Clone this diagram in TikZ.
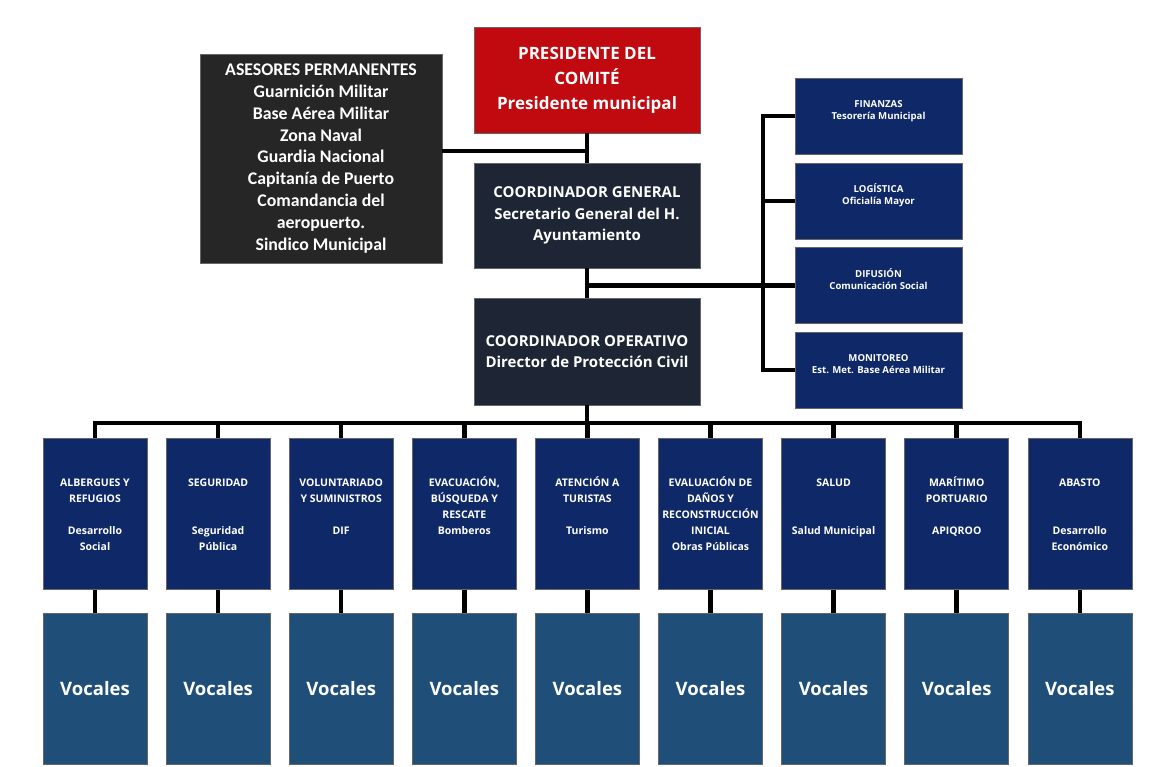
\documentclass[tikz,border=0pt]{standalone}
\usepackage{fontspec}
\setmainfont{Open Sans}
\newfontfamily\calib{Carlito}
\definecolor{navy}{RGB}{14,40,104}
\definecolor{vocal}{RGB}{31,78,121}
\definecolor{coord}{RGB}{30,38,53}
\definecolor{asesor}{RGB}{38,38,38}
\definecolor{pres}{RGB}{192,10,16}
\newcommand\colbody[1]{\parbox[c][151pt][t]{104pt}{\fontsize{10.5}{16}\selectfont\bfseries\centering\vspace*{37pt}\strut #1\par}}
\newcommand\sidetxt[2]{\raisebox{5pt}[\height][\depth]{\begin{tabular}{@{}c@{}}#1\\#2\end{tabular}}}
\begin{document}
\begin{tikzpicture}[x=1pt,y=-1pt,
  box/.style={rectangle, inner sep=0pt, draw=black!60, line width=0.6pt, text=white, font=\bfseries, align=center},
  colbox/.style={box, fill=navy, minimum width=104pt, minimum height=151pt},
  vocbox/.style={box, fill=vocal, minimum width=104pt, minimum height=151pt, font=\fontsize{18.5}{22}\selectfont\bfseries},
  sidebox/.style={box, fill=navy, minimum width=167pt, minimum height=76pt, font=\fontsize{9.6}{12}\selectfont\bfseries},
  conn/.style={line width=4.5pt, draw=black}]
\useasboundingbox (0,0) rectangle (1174,766);
\fill[white] (0,0) rectangle (1174,766);

% top hierarchy
\node[box, fill=pres, minimum width=226pt, minimum height=106pt, font=\fontsize{17}{25}\selectfont\bfseries] (pres) at (587,80) {PRESIDENTE DEL\\COMITÉ\\Presidente municipal};
\node[box, fill=coord, minimum width=226pt, minimum height=105pt, font=\fontsize{15}{21.5}\selectfont\bfseries] (gen) at (587,215.5) {COORDINADOR GENERAL\\Secretario General del H.\\Ayuntamiento};
\node[box, fill=coord, minimum width=226pt, minimum height=107pt, font=\fontsize{15}{21.5}\selectfont\bfseries] (op) at (587,351.5) {COORDINADOR OPERATIVO\\Director de Protección Civil};
\node[box, fill=asesor, minimum width=242pt, minimum height=209pt, font=\calib\fontsize{17.8}{21.9}\selectfont\bfseries] (ase) at (321,158.5) {ASESORES PERMANENTES\\Guarnición Militar\\Base Aérea Militar\\Zona Naval\\Guardia Nacional\\Capitanía de Puerto\\Comandancia del\\aeropuerto.\\Sindico Municipal};

% side boxes
\node[sidebox] (fin) at (878.5,116) {\sidetxt{FINANZAS}{Tesorería Municipal}};
\node[sidebox] (log) at (878.5,201) {\sidetxt{LOGÍSTICA}{Oficialía Mayor}};
\node[sidebox] (dif) at (878.5,285.5) {\sidetxt{DIFUSIÓN}{Comunicación Social}};
\node[sidebox] (mon) at (878.5,370) {\sidetxt{MONITOREO}{Est. Met. Base Aérea Militar}};

% columns
\node[colbox] (t1) at (95,514) {\colbody{ALBERGUES Y\\REFUGIOS\\[16pt]Desarrollo\\Social}};
\node[colbox] (t2) at (218.1,514) {\colbody{SEGURIDAD\\[32pt]Seguridad\\Pública}};
\node[colbox] (t3) at (341.2,514) {\colbody{VOLUNTARIADO\\Y SUMINISTROS\\[16pt]DIF}};
\node[colbox] (t4) at (464.3,514) {\colbody{EVACUACIÓN,\\BÚSQUEDA Y\\RESCATE\\Bomberos}};
\node[colbox] (t5) at (587.4,514) {\colbody{ATENCIÓN A\\TURISTAS\\[16pt]Turismo}};
\node[colbox] (t6) at (710.5,514) {\colbody{EVALUACIÓN DE\\DAÑOS Y\\RECONSTRUCCIÓN\\INICIAL\\Obras Públicas}};
\node[colbox] (t7) at (833.6,514) {\colbody{SALUD\\[32pt]Salud Municipal}};
\node[colbox] (t8) at (956.7,514) {\colbody{MARÍTIMO\\PORTUARIO\\[16pt]APIQROO}};
\node[colbox] (t9) at (1079.8,514) {\colbody{ABASTO\\[32pt]Desarrollo\\Económico}};

\foreach \i/\x in {1/95,2/218.1,3/341.2,4/464.3,5/587.4,6/710.5,7/833.6,8/956.7,9/1079.8}
  \node[vocbox] (v\i) at (\x,688.5) {Vocales};

% connectors
\coordinate (bus) at (587,423);
\coordinate (ay) at (0,151);
\coordinate (rv) at (763,0);
\draw[conn] (pres.south) -- (gen.north);
\draw[conn] (gen.south) -- (op.north);
\draw[conn] (op.south) -- (op.south |- bus);
\draw[conn] (ase.east |- ay) -- (pres.south |- ay);
\draw[conn] (dif.west) -- (dif.west -| pres.south);
\draw[conn] (fin.west) -- (fin.west -| rv) -- (mon.west -| rv) -- (mon.west);
\draw[conn] (log.west) -- (log.west -| rv);
\draw[conn] (t1.north) -- (t1.north |- bus) -- (t9.north |- bus) -- (t9.north);
\foreach \i in {2,...,8} \draw[conn] (t\i.north) -- (t\i.north |- bus);
\foreach \i in {1,...,9} \draw[conn] (t\i.south) -- (v\i.north);
\end{tikzpicture}
\end{document}
